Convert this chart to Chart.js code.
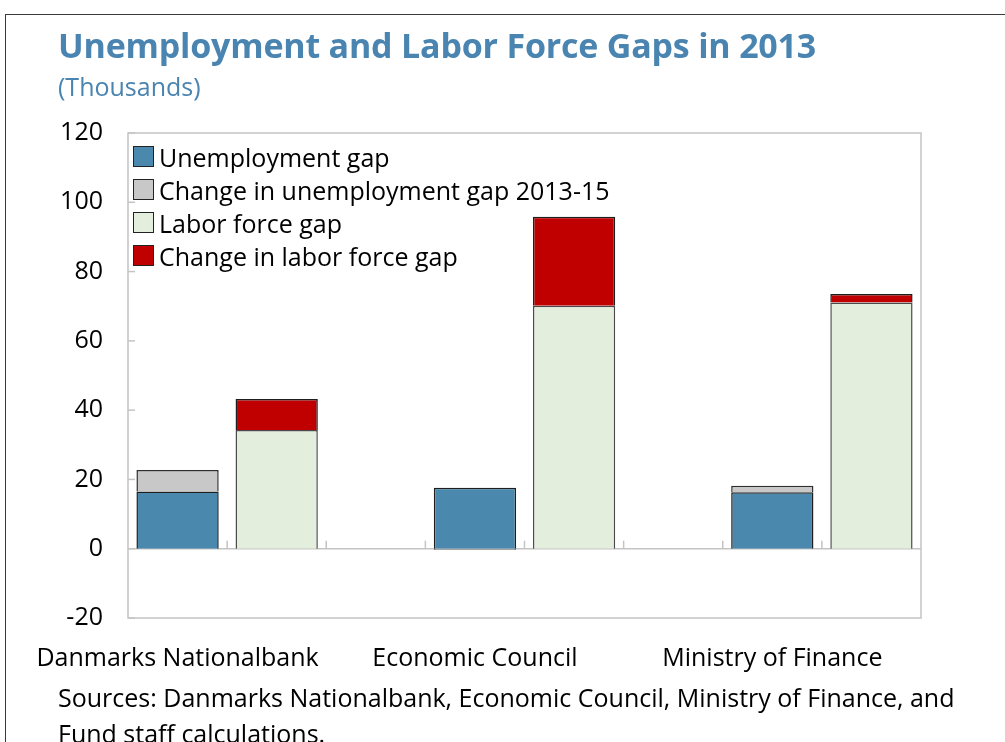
<!DOCTYPE html>
<html>
<head>
<meta charset="utf-8">
<script src="https://cdn.jsdelivr.net/npm/chart.js@4.4.0/dist/chart.umd.min.js"></script>
<style>
  html, body { margin: 0; padding: 0; background: #fff; overflow: hidden; }
  body { width: 1005px; height: 742px; position: relative; font-family: "Open Sans", "Noto Sans", sans-serif; }
  #frame { position: absolute; left: 5px; top: 14px; width: 1100px; height: 800px; border: 1.5px solid #3a3a3a; box-sizing: border-box; }
  #title { position: absolute; left: 58px; top: 22px; font-size: 34px; font-weight: bold; color: #4A84B0; white-space: nowrap; letter-spacing: -0.2px; }
  #subtitle { position: absolute; left: 58px; top: 69px; font-size: 25px; color: #4A84B0; white-space: nowrap; }
  #chartWrap { position: absolute; left: 0; top: 0; width: 1005px; height: 742px; }
  #legend { position: absolute; left: 133px; top: 140px; font-size: 25px; color: #000; }
  .item { display: flex; align-items: center; height: 33px; white-space: nowrap; }
  .box { width: 19px; height: 19px; border: 1px solid #222; margin-right: 5px; flex: none; }
  #sources { position: absolute; left: 58px; top: 679px; font-size: 25px; line-height: 36px; color: #000; white-space: nowrap; }
</style>
</head>
<body>
<div id="frame"></div>
<div id="chartWrap"><canvas id="c" width="1005" height="742"></canvas></div>
<div id="title">Unemployment and Labor Force Gaps in 2013</div>
<div id="subtitle">(Thousands)</div>
<div id="legend"></div>
<div id="sources">Sources: Danmarks Nationalbank, Economic Council, Ministry of Finance, and<br>Fund staff calculations.</div>
<script>
// Categories: 8 slots (pairs of bars per institution, with gaps)
const categories = ['Danmarks Nationalbank', '', '', 'Economic Council', '', '', 'Ministry of Finance', ''];
const unemploymentGap       = [16.5, null, null, 17.6, null, null, 16.3, null];
const changeUnemploymentGap = [6.2,  null, null, -0.3, null, null, 1.9,  null];
const laborForceGap         = [null, 34.3, null, null, 70.1, null, null, 71.1];
const changeLaborForceGap   = [null, 8.9,  null, null, 25.7, null, null, 2.4];
const yTicks = [-20, 0, 20, 40, 60, 80, 100, 120];

const FONT = '"Open Sans", "Noto Sans", sans-serif';

const datasets = [
  { label: 'Unemployment gap', data: unemploymentGap, backgroundColor: '#4A89AD', borderColor: '#1e1e1e', borderWidth: 1.5 },
  { label: 'Change in unemployment gap 2013-15', data: changeUnemploymentGap, backgroundColor: '#C8C8C8', borderColor: '#2e2e2e', borderWidth: 1.5 },
  { label: 'Labor force gap', data: laborForceGap, backgroundColor: '#E4EEDD', borderColor: '#4a4a4a', borderWidth: 1.5 },
  { label: 'Change in labor force gap', data: changeLaborForceGap, backgroundColor: '#C00000', borderColor: '#1e1e1e', borderWidth: 1.5 }
];

const decor = {
  id: 'decor',
  beforeDatasetsDraw(chart) {
    const { ctx, chartArea: a, scales: { x, y } } = chart;
    ctx.save();
    ctx.strokeStyle = '#C4C4C4';
    ctx.lineWidth = 1.5;
    ctx.strokeRect(a.left, a.top, a.right - a.left, a.bottom - a.top);
    const y0 = y.getPixelForValue(0);
    ctx.beginPath(); ctx.moveTo(a.left, y0); ctx.lineTo(a.right, y0); ctx.stroke();
    y.ticks.forEach(t => {
      const py = y.getPixelForValue(t.value);
      ctx.beginPath(); ctx.moveTo(a.left, py); ctx.lineTo(a.left + 7, py); ctx.stroke();
    });
    for (let i = 1; i < categories.length; i++) {
      const px = (x.getPixelForValue(i - 1) + x.getPixelForValue(i)) / 2;
      ctx.beginPath(); ctx.moveTo(px, y0); ctx.lineTo(px, y0 - 8); ctx.stroke();
    }
    ctx.restore();
  }
};

new Chart(document.getElementById('c'), {
  type: 'bar',
  data: { labels: categories, datasets },
  options: {
    responsive: false,
    animation: false,
    devicePixelRatio: 1,
    layout: { padding: { top: 133, right: 84, left: 0, bottom: 0 } },
    datasets: { bar: { barPercentage: 0.83, categoryPercentage: 1.0 } },
    plugins: { legend: { display: false }, title: { display: false }, tooltip: { enabled: false } },
    scales: {
      x: {
        stacked: true,
        grid: { display: false, drawTicks: false },
        border: { display: false },
        ticks: { color: '#000', font: { family: FONT, size: 25 }, padding: 26, maxRotation: 0, autoSkip: false },
        afterFit(s) { s.height = 124; }
      },
      y: {
        stacked: true,
        min: -20, max: 120,
        afterBuildTicks(s) { s.ticks = yTicks.map(v => ({ value: v })); },
        grid: { display: false, drawTicks: false },
        border: { display: false },
        ticks: { color: '#000', font: { family: FONT, size: 25 }, padding: 25 },
        afterFit(s) { s.width = 128; }
      }
    }
  },
  plugins: [decor]
});

const lg = document.getElementById('legend');
datasets.forEach(d => {
  const it = document.createElement('div'); it.className = 'item';
  const b = document.createElement('span'); b.className = 'box'; b.style.background = d.backgroundColor;
  const t = document.createElement('span'); t.textContent = d.label;
  it.appendChild(b); it.appendChild(t); lg.appendChild(it);
});
</script>
</body>
</html>
